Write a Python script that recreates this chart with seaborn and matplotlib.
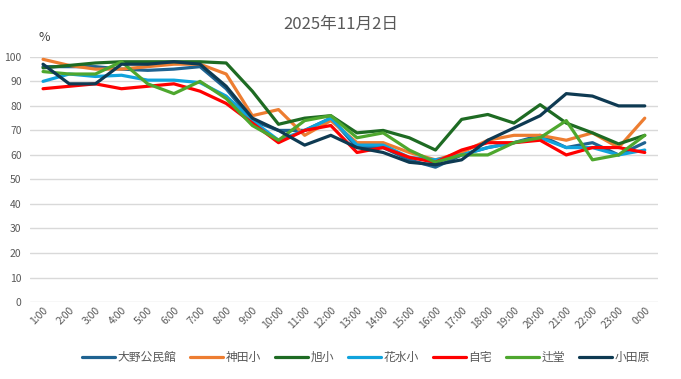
import seaborn as sns
import matplotlib.pyplot as plt
import pandas as pd

sns.set_theme(style="white")
plt.rcParams['font.family'] = ['Noto Sans CJK JP', 'DejaVu Sans']

hours = ['1:00', '2:00', '3:00', '4:00', '5:00', '6:00', '7:00', '8:00', '9:00', '10:00',
         '11:00', '12:00', '13:00', '14:00', '15:00', '16:00', '17:00', '18:00', '19:00',
         '20:00', '21:00', '22:00', '23:00', '0:00']

oono = [96, 96, 96, 95, 94.5, 95, 96, 87, 74, 70, 70, 75, 63, 63, 58, 55, 60, 63, 65, 68, 63, 65, 60, 65]
kanda = [99, 96.5, 95, 95, 96, 97, 97, 93, 76, 78.5, 68, 74, 65, 65, 61, 58, 61, 66, 68, 68, 66, 69, 63, 75]
asahi = [95.5, 96.5, 97.5, 98, 98, 98, 98, 97.5, 86, 72.5, 75, 76, 69, 70, 67, 62, 74.5, 76.5, 73, 80.5, 73, 69, 64.5, 68]
hanamizu = [90, 93, 92, 92.5, 90.5, 90.5, 89.5, 84, 74, 66, 70, 75, 64, 64, 59, 58, 60, 63, 65, 67, 63, 63, 60, 62]
jitaku = [87, 88, 89, 87, 88, 89, 86, 81, 73, 65, 70, 72, 61, 63, 59, 57, 62, 65, 65, 66, 60, 63, 63, 61]
tsujido = [94, 93, 93, 98, 89, 85, 90, 83, 72, 66, 74, 76, 67, 69, 62, 57, 60, 60, 65, 67, 74, 58, 60, 68]
odawara = [97, 89, 89, 97, 97, 98, 97, 88, 75, 70, 64, 68, 63, 61, 57, 56, 58, 66, 71, 76, 85, 84, 80, 80]

names = ['大野公民館', '神田小', '旭小', '花水小', '自宅', '辻堂', '小田原']
colors = ['#1F6391', '#ED7D31', '#1E6B23', '#10A3DC', '#FF0000', '#4EA72E', '#0E3A52']
series = [oono, kanda, asahi, hanamizu, jitaku, tsujido, odawara]

rows = []
for name, vals in zip(names, series):
    for h, v in zip(hours, vals):
        rows.append({'time': h, 'value': v, 'place': name})
df = pd.DataFrame(rows)

fig = plt.figure(figsize=(6.81, 3.79), dpi=100)
ax = fig.add_axes([0.044, 0.203, 0.922, 0.647])
sns.lineplot(data=df, x='time', y='value', hue='place', palette=dict(zip(names, colors)),
             sort=False, linewidth=2.3, ax=ax)

ax.set_xlim(-0.5, len(hours) - 0.5)
ax.set_ylim(0, 100)
ax.set_yticks(range(0, 101, 10))
ax.yaxis.grid(True, color='#D9D9D9', linewidth=1)
ax.xaxis.grid(False)
for s in ax.spines.values():
    s.set_visible(False)
ax.set_xlabel('')
ax.set_ylabel('')
ax.tick_params(axis='y', labelsize=7.5, labelcolor='#595959', pad=6, length=0)
ax.tick_params(axis='x', labelsize=7.5, labelcolor='#595959', pad=2, length=0)
plt.setp(ax.get_xticklabels(), rotation=45, ha='right', rotation_mode='anchor')

fig.text(0.056, 0.893, '%', fontsize=9, color='#404040')
fig.suptitle('2025年11月2日', y=0.958, fontsize=12, color='#595959')

ax.legend(loc='upper center', bbox_to_anchor=(0.535, -0.155), ncol=7, frameon=False,
          fontsize=8.5, labelcolor='#595959', handlelength=2.8, columnspacing=1.2,
          handletextpad=0.2)

fig.savefig('out.png', dpi=100)
